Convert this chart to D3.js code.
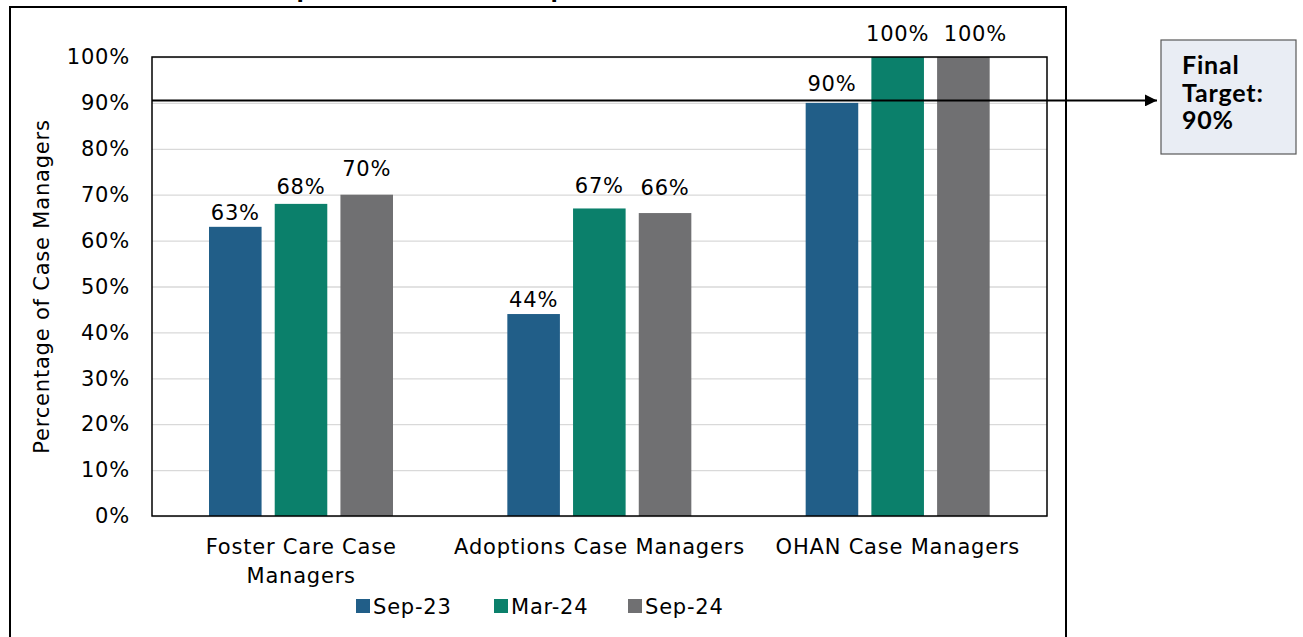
<!DOCTYPE html>
<html>
<head>
<meta charset="utf-8">
<script src="https://cdn.jsdelivr.net/npm/d3@7"></script>
<style>
  body { margin: 0; background: #fff; }
  svg { display: block; font-family: "DejaVu Sans", sans-serif; }
  .lbl { font-size: 21px; letter-spacing: 0.8px; fill: #000; }
  .grid line { stroke: #d9d9d9; stroke-width: 1.3; }
  .grid .domain { display: none; }
  .tick text { font-size: 21px; letter-spacing: 0.8px; fill: #000; font-family: "DejaVu Sans", sans-serif; }
</style>
</head>
<body>
<div id="chart"></div>
<script>
const categories = [['Foster Care Case', 'Managers'], ['Adoptions Case Managers'], ['OHAN Case Managers']];
const series = ['Sep-23', 'Mar-24', 'Sep-24'];
const values = [
  [63, 68, 70],
  [44, 67, 66],
  [90, 100, 100]
];
const yTicks = [0, 10, 20, 30, 40, 50, 60, 70, 80, 90, 100];
const target = 90;
const targetLabel = ['Final', 'Target:', '90%'];
const title = 'September 2023 – September 2024';
const colors = ['#215e88', '#0b806b', '#707072'];
// label nudges (px), hand placed in the source
const labelGap = [
  [7, 10, 19],
  [7, 15, 18],
  [12, 16, 16]
];
const labelShift = [
  [0, 0, 0],
  [0, 0, 0],
  [0, 0, 12]
];

const W = 1303, H = 637;
const plot = {left: 152, right: 1047, top: 57, bottom: 516};

const svg = d3.select('#chart').append('svg')
  .attr('width', W)
  .attr('height', H);

// outer frame (top is cut off in the source)
svg.append('path')
  .attr('d', `M10,${H + 5}V7H1066V${H + 5}`)
  .attr('fill', 'none')
  .attr('stroke', '#000')
  .attr('stroke-width', 2);

svg.append('text')
  .attr('x', 502)
  .attr('y', -3)
  .attr('text-anchor', 'middle')
  .style('font-family', 'Lato, sans-serif')
  .style('font-size', '30px')
  .style('font-weight', 'bold')
  .text(title);

const x = d3.scaleBand()
  .domain(d3.range(categories.length))
  .range([plot.left, plot.right]);
const xInner = d3.scaleBand()
  .domain(series)
  .range([57, 241])
  .paddingInner(0.2);
const y = d3.scaleLinear()
  .domain([0, 100])
  .range([plot.bottom, plot.top]);

// grid
svg.append('g')
  .attr('class', 'grid')
  .attr('transform', `translate(${plot.left},0)`)
  .call(d3.axisLeft(y).tickValues(yTicks).tickSize(-(plot.right - plot.left)).tickFormat(''));

// y axis labels
svg.append('g')
  .attr('transform', `translate(${plot.left},0)`)
  .call(d3.axisLeft(y).tickValues(yTicks).tickSize(0).tickPadding(22).tickFormat(d => d + '%'))
  .call(g => g.select('.domain').remove());

svg.append('text')
  .attr('class', 'lbl')
  .attr('transform', `translate(49,${(plot.top + plot.bottom) / 2}) rotate(-90)`)
  .attr('text-anchor', 'middle')
  .text('Percentage of Case Managers');

// bars
const groups = svg.append('g')
  .selectAll('g')
  .data(values)
  .join('g')
  .attr('transform', (_, i) => `translate(${x(i)},0)`);

groups.selectAll('rect')
  .data(d => d.map((v, j) => ({v, s: series[j], j})))
  .join('rect')
  .attr('x', d => xInner(d.s))
  .attr('width', xInner.bandwidth())
  .attr('y', d => y(d.v))
  .attr('height', d => y(0) - y(d.v))
  .attr('fill', d => colors[d.j]);

groups.selectAll('text')
  .data((d, i) => d.map((v, j) => ({v, s: series[j], gap: labelGap[i][j], dx: labelShift[i][j]})))
  .join('text')
  .attr('class', 'lbl')
  .attr('x', d => xInner(d.s) + xInner.bandwidth() / 2 + d.dx)
  .attr('y', d => y(d.v) - d.gap)
  .attr('text-anchor', 'middle')
  .text(d => d.v + '%');

// plot frame
svg.append('rect')
  .attr('x', plot.left)
  .attr('y', plot.top)
  .attr('width', plot.right - plot.left)
  .attr('height', plot.bottom - plot.top)
  .attr('fill', 'none')
  .attr('stroke', '#000')
  .attr('stroke-width', 1.5);

// category labels
svg.append('g')
  .selectAll('text')
  .data(categories)
  .join('text')
  .attr('class', 'lbl')
  .attr('x', (_, i) => x(i) + x.bandwidth() / 2)
  .attr('y', 554)
  .attr('text-anchor', 'middle')
  .selectAll('tspan')
  .data(d => d)
  .join('tspan')
  .attr('x', function() { return this.parentNode.getAttribute('x'); })
  .attr('dy', (_, k) => k ? 29 : 0)
  .text(d => d);

// target line + arrow
svg.append('defs').append('marker')
  .attr('id', 'arrow')
  .attr('viewBox', '0 0 10 10')
  .attr('refX', 10).attr('refY', 5)
  .attr('markerWidth', 16).attr('markerHeight', 12)
  .attr('markerUnits', 'userSpaceOnUse')
  .attr('orient', 'auto')
  .append('path')
  .attr('d', 'M0,0L10,5L0,10Z')
  .attr('fill', '#000');

svg.append('line')
  .attr('x1', plot.left)
  .attr('x2', 1157)
  .attr('y1', y(target) - 2.5)
  .attr('y2', y(target) - 2.5)
  .attr('stroke', '#000')
  .attr('stroke-width', 2)
  .attr('marker-end', 'url(#arrow)');

svg.append('rect')
  .attr('x', 1161)
  .attr('y', 40)
  .attr('width', 135)
  .attr('height', 114)
  .attr('fill', '#e9edf4')
  .attr('stroke', '#595959')
  .attr('stroke-width', 1.2);

svg.append('text')
  .attr('x', 1182)
  .attr('y', 74)
  .style('font-family', 'Lato, sans-serif')
  .style('font-size', '25px')
  .style('letter-spacing', '0.8px')
  .style('font-weight', 'bold')
  .selectAll('tspan')
  .data(targetLabel)
  .join('tspan')
  .attr('x', 1182)
  .attr('dy', (_, k) => k ? 27.5 : 0)
  .text(d => d);

// legend
const legendX = [356, 494, 628];
const legend = svg.append('g')
  .selectAll('g')
  .data(series)
  .join('g')
  .attr('transform', (_, i) => `translate(${legendX[i]},606)`);
legend.append('rect')
  .attr('y', -7)
  .attr('width', 14)
  .attr('height', 14)
  .attr('fill', (_, i) => colors[i]);
legend.append('text')
  .attr('class', 'lbl')
  .attr('x', 17)
  .attr('dy', '.36em')
  .text(d => d);
</script>
</body>
</html>
